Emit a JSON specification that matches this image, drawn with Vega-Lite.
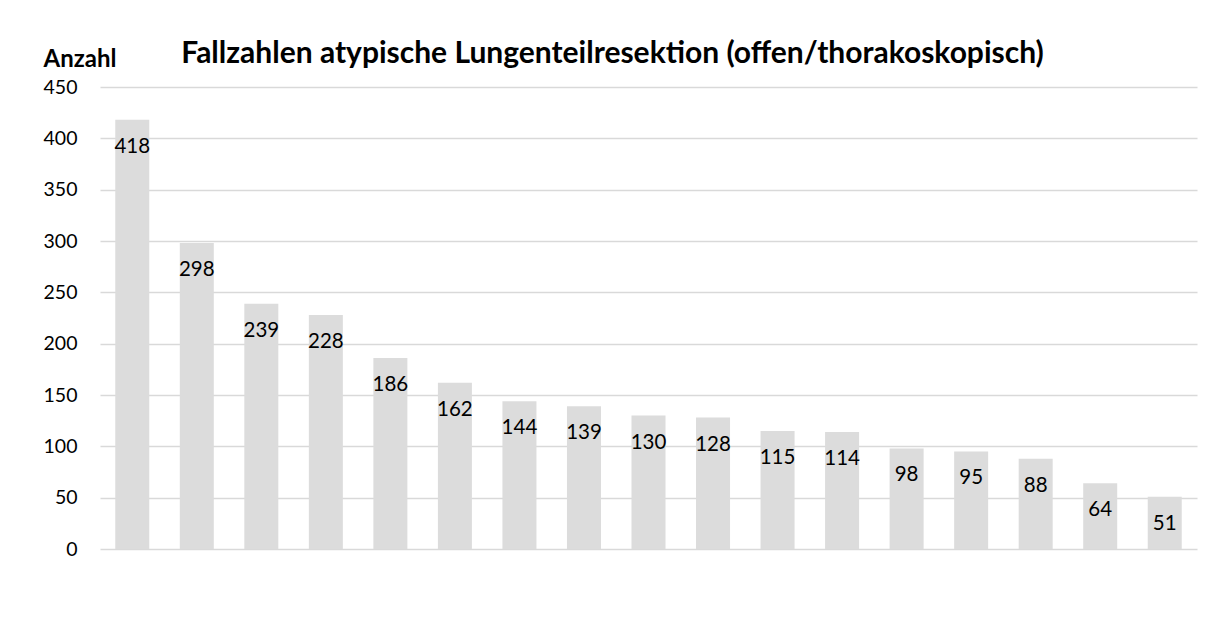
{
  "$schema": "https://vega.github.io/schema/vega-lite/v6.json",
  "autosize": "none",
  "width": 1097,
  "height": 462,
  "padding": {"left": 100, "top": 87, "right": 17, "bottom": 90},
  "background": "white",
  "title": {
    "text": "Fallzahlen atypische Lungenteilresektion (offen/thorakoskopisch)",
    "anchor": "middle",
    "frame": "group",
    "dx": -36,
    "font": "Lato",
    "fontSize": 30,
    "fontWeight": "bold",
    "color": "#000000",
    "offset": -22
  },
  "data": {
    "values": [
      {"k": "1", "v": 418}, {"k": "2", "v": 298}, {"k": "3", "v": 239}, {"k": "4", "v": 228},
      {"k": "5", "v": 186}, {"k": "6", "v": 162}, {"k": "7", "v": 144}, {"k": "8", "v": 139},
      {"k": "9", "v": 130}, {"k": "10", "v": 128}, {"k": "11", "v": 115}, {"k": "12", "v": 114},
      {"k": "13", "v": 98}, {"k": "14", "v": 95}, {"k": "15", "v": 88}, {"k": "16", "v": 64},
      {"k": "17", "v": 51}
    ]
  },
  "encoding": {
    "x": {
      "field": "k", "type": "nominal", "sort": null,
      "scale": {"paddingInner": 0.473, "paddingOuter": 0.2365},
      "axis": null
    },
    "y": {
      "field": "v", "type": "quantitative",
      "scale": {"domain": [0, 450], "nice": false},
      "axis": {
        "values": [0, 50, 100, 150, 200, 250, 300, 350, 400, 450],
        "title": "Anzahl",
        "titleAngle": 0,
        "titleAlign": "left",
        "titleBaseline": "alphabetic",
        "titleX": -57,
        "titleY": -21,
        "titleFont": "Lato",
        "titleFontSize": 24,
        "titleFontWeight": "bold",
        "titleColor": "#000000",
        "labelFont": "Lato",
        "labelFontSize": 19.5,
        "labelColor": "#000000",
        "labelPadding": 23,
        "ticks": false,
        "domain": false,
        "grid": true,
        "gridColor": "#d9d9d9",
        "gridWidth": 1.5
      }
    }
  },
  "layer": [
    {"mark": {"type": "bar", "color": "#dcdcdc"}},
    {
      "mark": {"type": "text", "baseline": "top", "dy": 17, "font": "Lato", "fontSize": 20.5, "color": "#000000"},
      "encoding": {"text": {"field": "v", "type": "quantitative"}}
    }
  ],
  "config": {"view": {"stroke": null}}
}
